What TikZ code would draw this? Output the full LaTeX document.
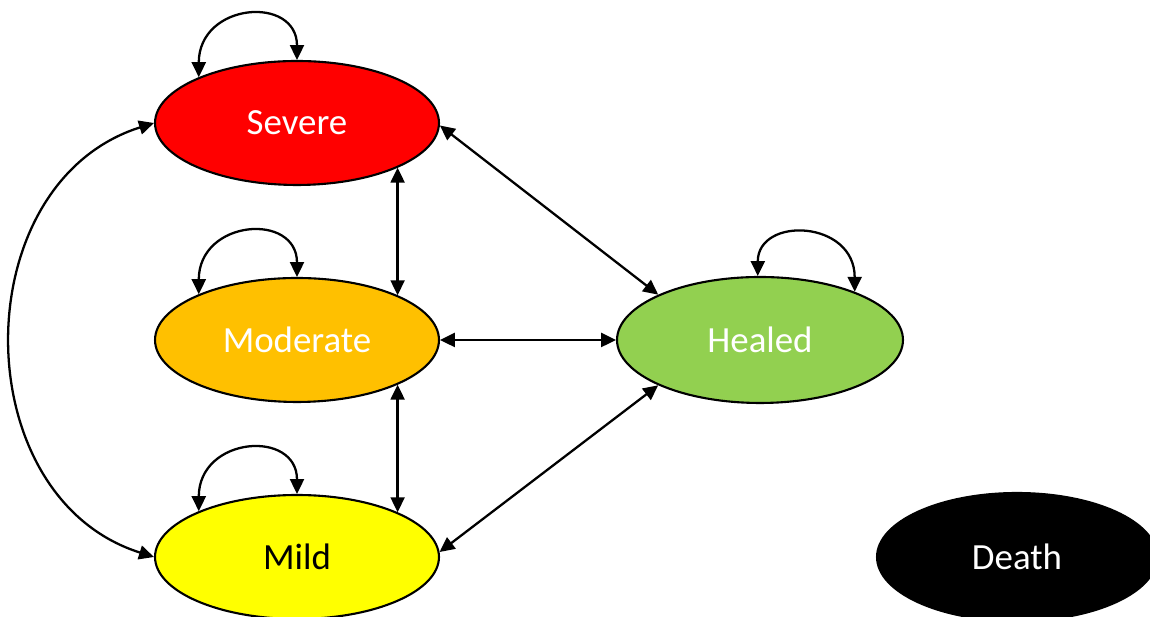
\documentclass[tikz,border=0pt]{standalone}
\usepackage{fontspec}
\setmainfont{Carlito}
\usetikzlibrary{arrows.meta}
\usetikzlibrary{shapes.geometric}

\begin{document}
\begin{tikzpicture}[x=0.02cm, y=0.02cm,
  state/.style={ellipse, draw=black, line width=1.2pt, minimum width=5.68cm,
    minimum height=2.48cm, inner sep=0pt, font=\fontsize{21}{25}\selectfont},
  link/.style={{Triangle[length=8.5pt,width=8pt]}-{Triangle[length=8.5pt,width=8pt]},
    line width=1.3pt}]
\clip (0, 0) rectangle (1150, 617);

\node[state, fill=red, text=white]            (severe)   at (297, 494) {Severe};
\node[state, fill={rgb,255:red,255;green,192;blue,0}, text=white] (moderate) at (297, 277) {Moderate};
\node[state, fill={rgb,255:red,255;green,255;blue,0}, text=black] (mild) at (297, 60) {Mild};
\node[state, fill={rgb,255:red,146;green,208;blue,80}, text=white,
      minimum width=5.72cm, minimum height=2.52cm] (healed) at (760, 277) {Healed};
\node[state, fill=black, text=white,
      minimum width=5.6cm, minimum height=2.56cm]  (death)  at (1017, 60) {Death};

%%%%%%%%%%%%%%%%%%%%%%%%%%%%%%%%%%%%%%%%

\draw[link] (severe.155) .. controls +(0, 75) and +(0, 65) .. (severe.north);
\draw[link] (moderate.155) .. controls +(0, 75) and +(0, 65) .. (moderate.north);
\draw[link] (mild.155) .. controls +(0, 75) and +(0, 65) .. (mild.north);
\draw[link] (healed.92) .. controls +(0, 60) and +(0, 72) .. (healed.27);

\draw[link] (severe.-24) -- (moderate.24);
\draw[link] (moderate.-24) -- (mild.24);
\draw[link] (severe.-1) -- (healed.156);
\draw[link] (moderate.east) -- (healed.west);
\draw[link] (mild.2) -- (healed.204);
\draw[link] (severe.west) .. controls +(-190, -60) and +(-190, 60) .. (mild.west);

\end{tikzpicture}
\end{document}
